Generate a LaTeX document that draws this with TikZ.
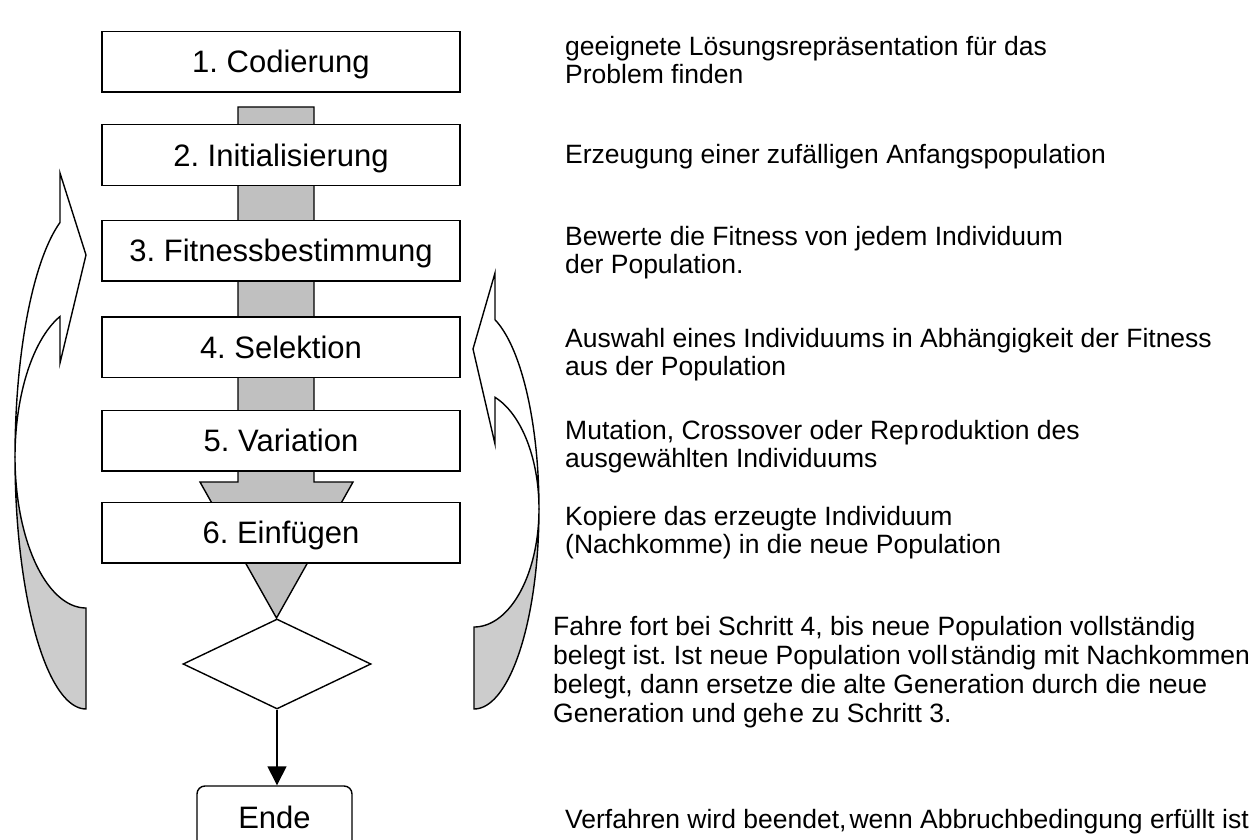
\documentclass[tikz,border=0pt]{standalone}
\usepackage{fontspec}
\setmainfont{Liberation Sans}
\usetikzlibrary{shapes.geometric,arrows.meta}
\frenchspacing
\definecolor{shaftgray}{RGB}{192,192,192}
\definecolor{backgray}{RGB}{204,204,204}
\tikzset{
  stepbox/.style={draw=black, line width=1.5pt, fill=white, minimum width=358pt, minimum height=60.5pt, inner sep=0pt, text height=22pt, text depth=0pt, font=\fontsize{31}{36}\selectfont},
  desc/.style={anchor=base west, inner sep=0pt, align=left, font=\fontsize{26.5}{28}\selectfont},
  shaftshape/.style={draw=black, line width=1.4pt, fill=shaftgray, line join=miter},
  frontarrow/.style={draw=black, line width=1.4pt, fill=white, line join=miter},
  backarrow/.style={draw=black, line width=1.4pt, fill=backgray, line join=miter},
  decision/.style={draw=black, line width=1.4pt, fill=white, shape=diamond, minimum width=188pt, minimum height=90pt, inner sep=0pt},
  endbox/.style={draw=black, line width=1.4pt, fill=white, rounded corners=8pt, minimum width=155pt, minimum height=62pt, inner sep=0pt, text height=22pt, text depth=0pt, font=\fontsize{31}{36}\selectfont},
  flow/.style={draw=black, line width=1.4pt, -{Triangle[width=19pt,length=19pt]}}
}
\begin{document}
\begin{tikzpicture}[x=1pt,y=-1pt]
\useasboundingbox (0,0) rectangle (1258,840);
\clip (0,0) rectangle (1258,840);
% central gray arrow (behind the boxes)
\draw[shaftshape] (238,107) -- (314,107) -- (314,482) -- (353,482) -- (276.5,618) -- (200,482) -- (238,482) -- cycle;
% step boxes
\node[stepbox] (s1) at (281,62) {1. Codierung};
\node[stepbox] (s2) at (281,155) {2. Initialisierung};
\node[stepbox] (s3) at (281,250.5) {3. Fitnessbestimmung};
\node[stepbox] (s4) at (281,347) {4. Selektion};
\node[stepbox] (s5) at (281,440.5) {5. Variation};
\node[stepbox] (s6) at (281,532.5) {6. Einfügen};
% decision and end
\node[decision] (dec) at (277,664) {};
\node[endbox] (ende) at (274.5,817) {Ende};
\draw[flow] (dec.south) -- (dec.south |- ende.north);
% left curved arrow (back to step 3)
\draw[backarrow] plot[domain=180:90,samples=50] ({86+71*cos(\x)},{457+252*sin(\x)}) -- (86,608) -- plot[domain=90:180,samples=50] ({86+71*cos(\x)},{457+151*sin(\x)}) -- cycle;
\draw[frontarrow] (60,173) -- (60,220) -- plot[domain=248.5:180,samples=50] ({86+71*cos(\x)},{457+252*sin(\x)}) -- plot[domain=180:248.5,samples=50] ({86+71*cos(\x)},{457+151*sin(\x)}) -- (60,363) -- (86,255) -- cycle;
% right curved arrow (back to step 4)
\draw[backarrow] plot[domain=0:90,samples=50] ({474+65*cos(\x)},{509+200*sin(\x)}) -- (474,627) -- plot[domain=90:0,samples=50] ({474+65*cos(\x)},{509+118*sin(\x)}) -- cycle;
\draw[frontarrow] (495,273) -- (495,318) -- plot[domain=288.85:360,samples=50] ({474+65*cos(\x)},{509+200*sin(\x)}) -- plot[domain=360:288.85,samples=50] ({474+65*cos(\x)},{509+118*sin(\x)}) -- (495,444) -- (473,349) -- cycle;
% descriptions (anchored at the baseline of the last line)
\node[desc] (d1) at (565,84) {geeignete Lösungsrepräsentation für das\\Problem finden};
\node[desc] (d2) at (565,164) {Erzeugung einer zufälligen Anfangspopulation};
\node[desc] (d3) at (565,273) {Bewerte die Fitness von jedem Individuum\\der Population.};
\node[desc] (d4) at (565,375) {Auswahl eines Individuums in Abhängigkeit der Fitness\\aus der Population};
\node[desc] (d5) at (565,467) {Mutation, Crossover oder Rep\kern2ptroduktion des\\ausgewählten Individuums};
\node[desc] (d6) at (565,553) {Kopiere das erzeugte Individuum\\(Nachkomme) in die neue Population};
\node[desc, font=\fontsize{26.5}{29}\selectfont] (d7) at (553,722) {Fahre fort bei Schritt 4, bis neue Population vollständig\\belegt ist. Ist neue Population voll\kern3ptständig mit Nachkommen\\belegt, dann ersetze die alte Generation durch die neue\\Generation und geh\kern2pt e zu Schritt 3.};
\node[desc] (d8) at (565,828) {Verfahren wird beendet,\kern3pt wenn Abbruchbedingung erfüllt ist};
\end{tikzpicture}
\end{document}
